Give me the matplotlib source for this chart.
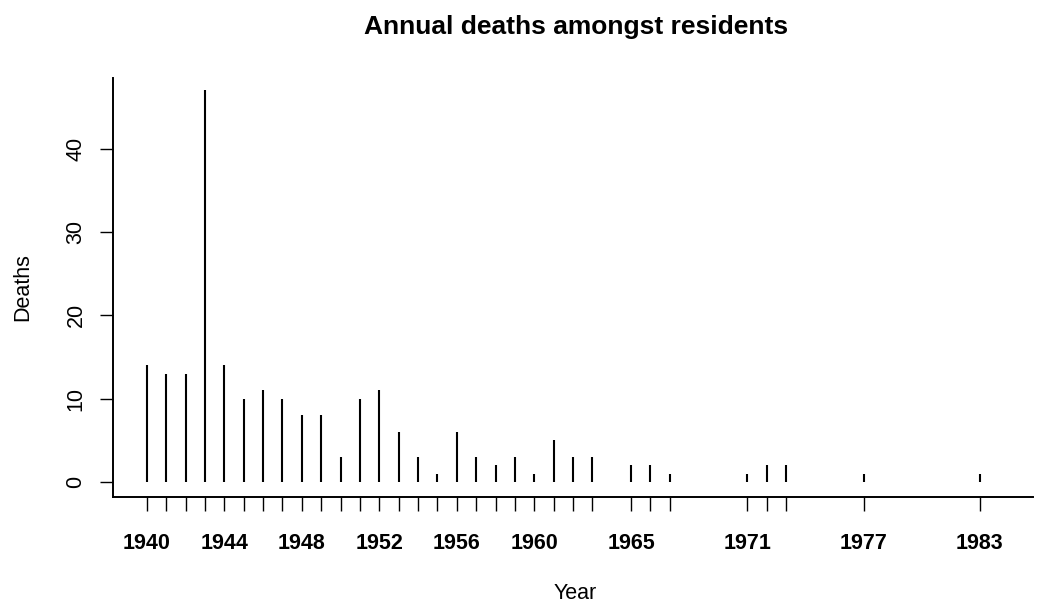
import matplotlib
matplotlib.use("Agg")
import matplotlib.pyplot as plt

years = [1940, 1941, 1942, 1943, 1944, 1945, 1946, 1947, 1948, 1949, 1950, 1951,
         1952, 1953, 1954, 1955, 1956, 1957, 1958, 1959, 1960, 1961, 1962, 1963,
         1965, 1966, 1967, 1971, 1972, 1973, 1977, 1983]
deaths = [14, 13, 13, 47, 14, 10, 11, 10, 8, 8, 3, 10,
          11, 6, 3, 1, 6, 3, 2, 3, 1, 5, 3, 3,
          2, 2, 1, 1, 2, 2, 1, 1]
label_years = [1940, 1944, 1948, 1952, 1956, 1960, 1965, 1971, 1977, 1983]
y_ticks = [0, 10, 20, 30, 40]

plt.rcParams['font.family'] = ['Liberation Sans', 'DejaVu Sans']

W, H = 1043, 603
PX = 72 / 100  # points per pixel at dpi 100
fig = plt.figure(figsize=(W / 100, H / 100), dpi=100)
ax = fig.add_axes([113 / W, (H - 497) / H, (1033 - 113) / W, (497 - 78) / H])

ax.vlines(years, 0, deaths, colors='black', linewidth=1.5)

ax.set_xlim(1938.25, 1985.75)
ax.set_ylim(-1.8, 48.5)

ax.spines['top'].set_visible(False)
ax.spines['right'].set_visible(False)
ax.spines['left'].set_linewidth(1.4)
ax.spines['bottom'].set_linewidth(1.4)

fs = 15.5
ax.set_xticks(years)
ax.set_xticklabels([str(y) if y in label_years else '' for y in years],
                   fontsize=fs, fontweight='bold')
ax.tick_params(axis='x', length=14 * PX, width=1, pad=22 * PX)
ax.set_yticks(y_ticks)
ax.set_yticklabels([str(v) for v in y_ticks], fontsize=fs, rotation=90, va='center')
ax.tick_params(axis='y', length=13.5 * PX, width=1, pad=13 * PX)

fig.text(575 / W, 1 - 599 / H, 'Year', fontsize=fs, ha='center', va='baseline')
fig.text(12.5 / W, 1 - 287 / H, 'Deaths', fontsize=fs, rotation=90,
         ha='left', va='center')
fig.text(576 / W, 1 - 34 / H, 'Annual deaths amongst residents', fontsize=19,
         fontweight='bold', ha='center', va='baseline')

fig.savefig('out.png', dpi=100)
